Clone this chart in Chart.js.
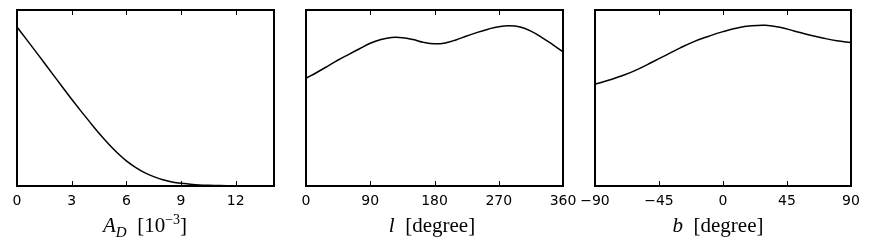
<!DOCTYPE html>
<html>
<head>
<meta charset="utf-8">
<script src="https://cdn.jsdelivr.net/npm/chart.js@4/dist/chart.umd.min.js"></script>
<style>
  html, body { margin: 0; padding: 0; background: #fff; }
  #wrap { position: relative; width: 872px; height: 250px; overflow: hidden; }
  #wrap canvas { position: absolute; left: 0; top: 0; }
  .axlabel {
    position: absolute; top: 212px; transform: translateX(-50%);
    font-family: "Liberation Serif", "DejaVu Serif", serif; font-size: 21px;
    color: #000; white-space: nowrap; line-height: 26px;
  }
  .axlabel sub { font-size: 15px; vertical-align: -5px; line-height: 0; }
  .axlabel sup { font-size: 14px; vertical-align: 8px; line-height: 0; }
</style>
</head>
<body>
<div id="wrap">
  <canvas id="adChart" width="872" height="250"></canvas>
  <canvas id="lChart" width="872" height="250"></canvas>
  <canvas id="bChart" width="872" height="250"></canvas>
  <div class="axlabel" style="left:145px"><i>A</i><sub><i>D</i></sub>&nbsp;&nbsp;[10<sup>−3</sup>]</div>
  <div class="axlabel" style="left:432px"><i>l</i>&nbsp;&nbsp;[degree]</div>
  <div class="axlabel" style="left:718px"><i>b</i>&nbsp;&nbsp;[degree]</div>
</div>
<script>
// A_D distribution (x in 10^-3)
const adX = [0, 0.5, 1, 1.5, 2, 2.5, 3, 3.5, 4, 4.5, 5, 5.5, 6, 6.5, 7, 7.5, 8, 8.5, 9, 9.5, 10, 10.5, 11, 11.5, 12, 13, 14.1];
const adY = [0.903, 0.836, 0.768, 0.699, 0.630, 0.561, 0.493, 0.427, 0.363, 0.300, 0.242, 0.189, 0.143, 0.106, 0.076, 0.053, 0.035, 0.023, 0.015, 0.010, 0.006, 0.004, 0.003, 0.002, 0.0015, 0.001, 0.0008];
const adTicks = [0, 3, 6, 9, 12];

// galactic longitude l
const lX = [0, 15, 30, 45, 60, 75, 90, 105, 120, 135, 150, 165, 180, 195, 210, 225, 240, 255, 270, 285, 300, 315, 330, 345, 360];
const lY = [0.612, 0.645, 0.680, 0.716, 0.748, 0.780, 0.811, 0.832, 0.844, 0.843, 0.832, 0.816, 0.808, 0.813, 0.830, 0.852, 0.873, 0.891, 0.905, 0.910, 0.903, 0.880, 0.845, 0.805, 0.762];
const lTicks = [0, 90, 180, 270, 360];

// galactic latitude b
const bX = [-90, -80, -70, -60, -50, -40, -30, -20, -10, 0, 10, 20, 30, 40, 50, 60, 70, 80, 90];
const bY = [0.578, 0.602, 0.629, 0.663, 0.703, 0.744, 0.785, 0.822, 0.851, 0.877, 0.898, 0.910, 0.913, 0.902, 0.881, 0.859, 0.841, 0.825, 0.814];
const bTicks = [-90, -45, 0, 45, 90];

// matplotlib-like frame with inward ticks top and bottom
const framePlugin = {
    id: 'frame',
    afterDraw(chart) {
        const ctx = chart.ctx;
        const a = chart.chartArea;
        const sx = chart.scales.x;
        ctx.save();
        ctx.strokeStyle = '#000';
        ctx.lineWidth = 1;
        sx.ticks.forEach(function(t) {
            const px = Math.round(sx.getPixelForValue(t.value)) + 0.5;
            ctx.beginPath();
            ctx.moveTo(px, a.bottom);
            ctx.lineTo(px, a.bottom - 5);
            ctx.moveTo(px, a.top);
            ctx.lineTo(px, a.top + 5);
            ctx.stroke();
        });
        ctx.lineWidth = 2;
        ctx.strokeRect(a.left, a.top, a.right - a.left, a.bottom - a.top);
        ctx.restore();
    }
};

function makePanel(id, xs, ys, tickVals, xmin, xmax, left, right, monotone) {
    new Chart(document.getElementById(id).getContext('2d'), {
        type: 'line',
        data: {
            datasets: [{
                data: xs.map(function(x, i) { return { x: x, y: ys[i] }; }),
                borderColor: '#000',
                borderWidth: 1.5,
                pointRadius: 0,
                fill: false,
                tension: 0.4,
                cubicInterpolationMode: monotone ? 'monotone' : 'default'
            }]
        },
        options: {
            responsive: false,
            animation: false,
            events: [],
            layout: { padding: { left: left, right: 872 - right, top: 10, bottom: 0 } },
            plugins: { legend: { display: false }, tooltip: { enabled: false } },
            scales: {
                x: {
                    type: 'linear',
                    min: xmin,
                    max: xmax,
                    afterBuildTicks: function(scale) {
                        scale.ticks = tickVals.map(function(v) { return { value: v }; });
                    },
                    afterFit: function(scale) { scale.height = 64; },
                    ticks: {
                        color: '#000',
                        padding: 7,
                        maxRotation: 0,
                        autoSkip: false,
                        font: { family: '"DejaVu Sans", sans-serif', size: 14 },
                        callback: function(v) { return String(v).replace('-', '\u2212'); }
                    },
                    grid: { display: false, drawTicks: false },
                    border: { display: false }
                },
                y: {
                    display: false,
                    min: 0,
                    max: 1
                }
            }
        },
        plugins: [framePlugin]
    });
}

makePanel('adChart', adX, adY, adTicks, 0, 14.1, 17, 274, true);
makePanel('lChart', lX, lY, lTicks, 0, 360, 306, 563, false);
makePanel('bChart', bX, bY, bTicks, -90, 90, 595, 851, false);
</script>
</body>
</html>
